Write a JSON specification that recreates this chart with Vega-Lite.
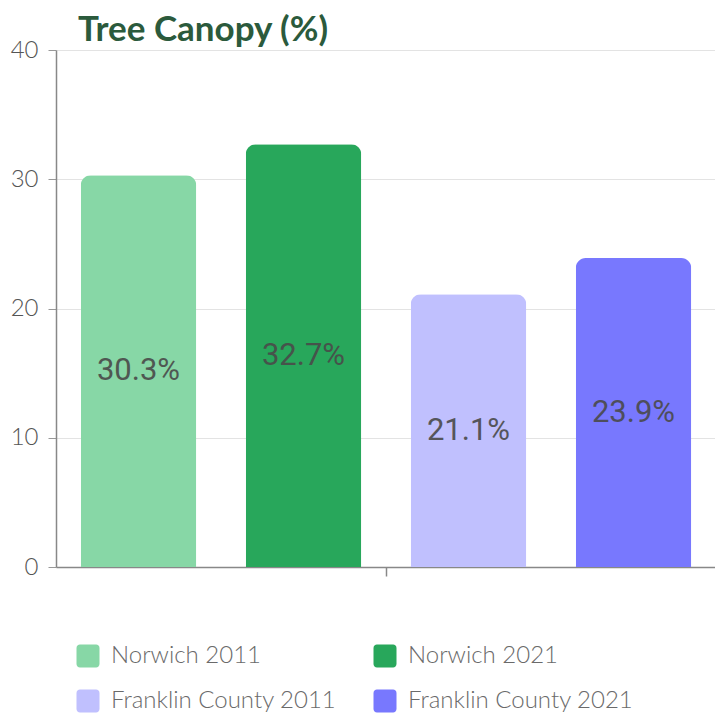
{
  "$schema": "https://vega.github.io/schema/vega-lite/v6.json",
  "width": 660,
  "height": 517,
  "autosize": {"type": "none"},
  "padding": {"left": 56, "top": 50, "right": 0, "bottom": 148},
  "background": "white",
  "title": {
    "text": "Tree Canopy (%)",
    "anchor": "start",
    "frame": "group",
    "orient": "top",
    "font": "Lato",
    "fontWeight": "bold",
    "fontSize": 35,
    "color": "#2b5a3c",
    "baseline": "alphabetic",
    "dx": 22,
    "offset": -38
  },
  "config": {
    "view": {"stroke": null},
    "font": "Lato"
  },
  "data": {
    "values": [
      {"group": "All", "series": "Norwich 2011", "value": 30.3, "label": "30.3%"},
      {"group": "All", "series": "Norwich 2021", "value": 32.7, "label": "32.7%"},
      {"group": "All", "series": "Franklin County 2011", "value": 21.1, "label": "21.1%"},
      {"group": "All", "series": "Franklin County 2021", "value": 23.9, "label": "23.9%"}
    ]
  },
  "transform": [{"calculate": "datum.value / 2", "as": "mid"}],
  "encoding": {
    "x": {
      "field": "group",
      "type": "nominal",
      "scale": {"paddingInner": 0, "paddingOuter": 0},
      "axis": {
        "title": null,
        "labels": false,
        "domainColor": "#888888",
        "domainWidth": 1.5,
        "tickColor": "#888888",
        "tickSize": 9,
        "tickWidth": 1.5
      }
    },
    "xOffset": {
      "field": "series",
      "type": "nominal",
      "sort": ["Norwich 2011", "Norwich 2021", "Franklin County 2011", "Franklin County 2021"],
      "scale": {"paddingInner": 0.3, "paddingOuter": 0.15}
    }
  },
  "layer": [
    {
      "mark": {"type": "bar", "cornerRadiusTopLeft": 10, "cornerRadiusTopRight": 10},
      "encoding": {
        "y": {
          "field": "value",
          "type": "quantitative",
          "scale": {"domain": [0, 40], "nice": false},
          "axis": {
            "title": null,
            "values": [0, 10, 20, 30, 40],
            "labelFont": "Lato",
            "labelFontSize": 24,
            "labelFontWeight": 300,
            "labelColor": "#555555",
            "labelPadding": 10,
            "tickSize": 8,
            "tickColor": "#999999",
            "domainColor": "#888888",
            "domainWidth": 1.5,
            "gridColor": "#e3e3e3",
            "gridWidth": 1
          }
        },
        "color": {
          "field": "series",
          "type": "nominal",
          "sort": ["Norwich 2011", "Norwich 2021", "Franklin County 2011", "Franklin County 2021"],
          "scale": {
            "domain": ["Norwich 2011", "Norwich 2021", "Franklin County 2011", "Franklin County 2021"],
            "range": ["#87d7a6", "#28a75b", "#c0c0fe", "#7878fe"]
          },
          "legend": {
            "title": null,
            "orient": "none",
            "legendX": 20,
            "legendY": 594,
            "direction": "horizontal",
            "columns": 2,
            "columnPadding": 36,
            "rowPadding": 21,
            "padding": 0,
            "symbolType": "M-0.7,-1L0.7,-1A0.3,0.3 0 0 1 1,-0.7L1,0.7A0.3,0.3 0 0 1 0.7,1L-0.7,1A0.3,0.3 0 0 1 -1,0.7L-1,-0.7A0.3,0.3 0 0 1 -0.7,-1Z",
            "symbolSize": 529,
            "symbolStrokeWidth": 0,
            "symbolOpacity": 1,
            "labelFont": "Lato",
            "labelFontSize": 24,
            "labelFontWeight": 300,
            "labelColor": "#6a6a6a",
            "labelOffset": 11,
            "labelLimit": 400
          }
        }
      }
    },
    {
      "mark": {"type": "text", "font": "Roboto", "fontSize": 31, "color": "#4a4a4a", "opacity": 0.9, "baseline": "middle"},
      "encoding": {
        "y": {"field": "mid", "type": "quantitative", "scale": {"domain": [0, 40], "nice": false}},
        "text": {"field": "label"}
      }
    }
  ]
}
